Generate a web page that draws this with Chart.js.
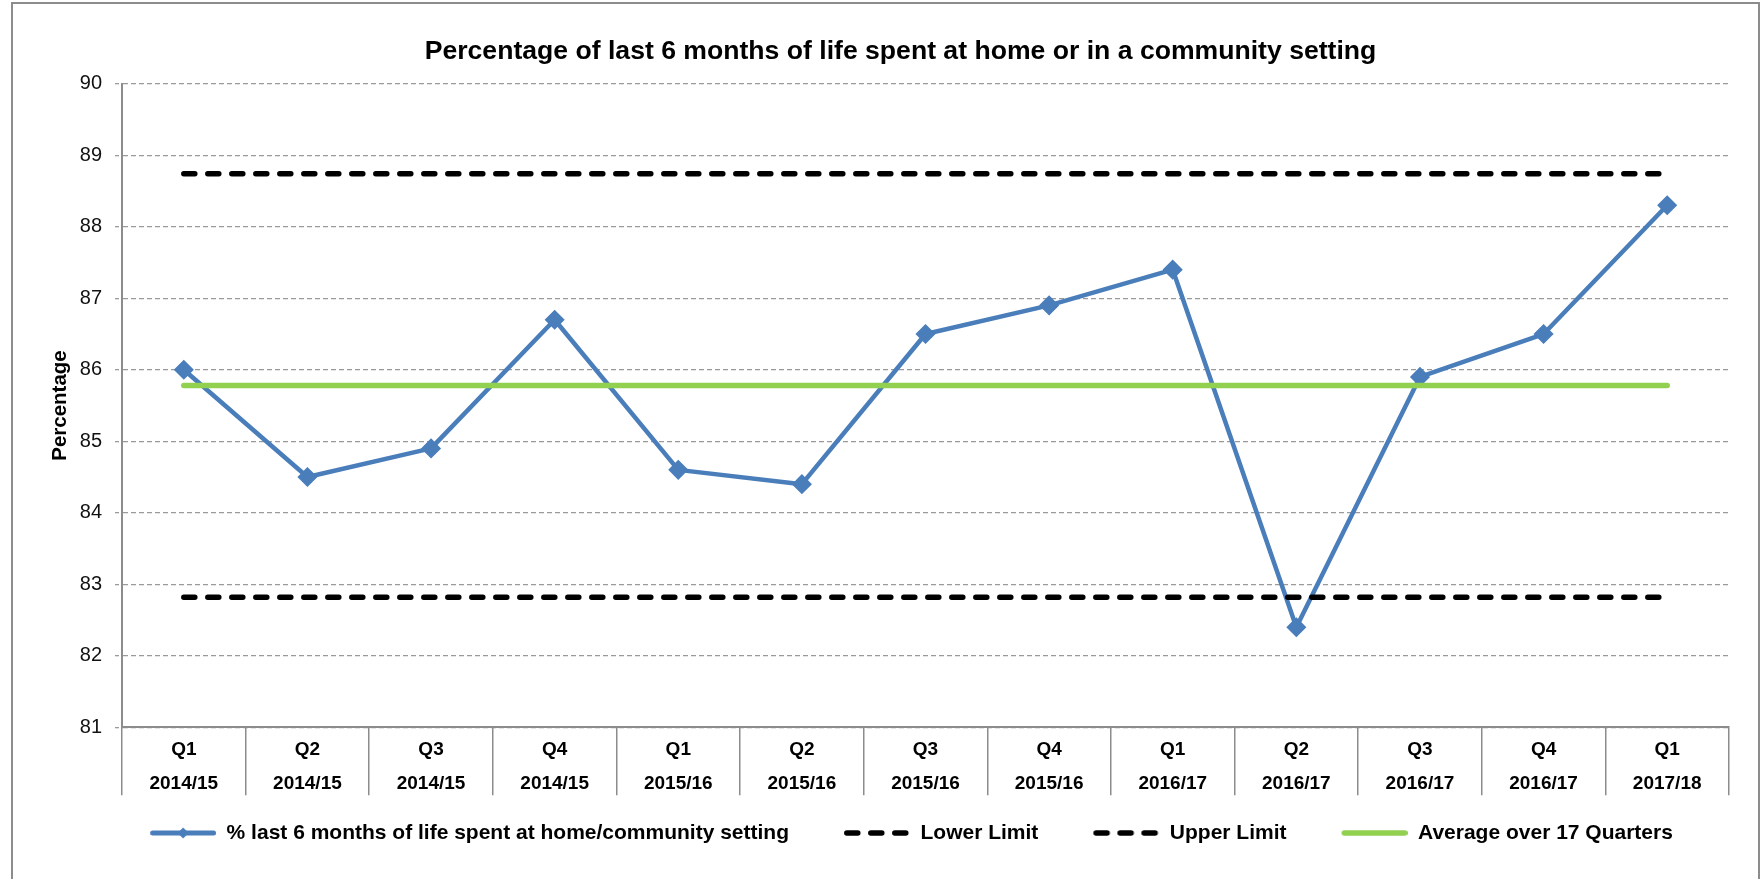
<!DOCTYPE html>
<html>
<head>
<meta charset="utf-8">
<script src="https://cdn.jsdelivr.net/npm/chart.js@4"></script>
<style>
html,body{margin:0;padding:0;background:#fff;overflow:hidden;}
#wrap{position:absolute;left:0;top:0;width:1760px;height:879px;}
#frame{position:absolute;left:11px;top:2px;width:1749px;height:900px;box-sizing:border-box;border:2px solid #8c8c8c;pointer-events:none;}
</style>
</head>
<body>
<div id="wrap"><canvas id="c"></canvas></div>
<div id="frame"></div>
<script>
// ---- data ----
const quarters = ["Q1","Q2","Q3","Q4","Q1","Q2","Q3","Q4","Q1","Q2","Q3","Q4","Q1"];
const years = ["2014/15","2014/15","2014/15","2014/15","2015/16","2015/16","2015/16","2015/16","2016/17","2016/17","2016/17","2016/17","2017/18"];
const pctHomeCommunity = [86.0, 84.5, 84.9, 86.7, 84.6, 84.4, 86.5, 86.9, 87.4, 82.4, 85.9, 86.5, 88.3];
const lowerLimit = [82.82, 82.82, 82.82, 82.82, 82.82, 82.82, 82.82, 82.82, 82.82, 82.82, 82.82, 82.82, 82.82];
const upperLimit = [88.74, 88.74, 88.74, 88.74, 88.74, 88.74, 88.74, 88.74, 88.74, 88.74, 88.74, 88.74, 88.74];
const averageLine = [85.78, 85.78, 85.78, 85.78, 85.78, 85.78, 85.78, 85.78, 85.78, 85.78, 85.78, 85.78, 85.78];
const seriesNames = ["% last 6 months of life spent at home/community setting", "Lower Limit", "Upper Limit", "Average over 17 Quarters"];
const yMin = 81, yMax = 90, yStep = 1;
const chartTitle = "Percentage of last 6 months of life spent at home or in a community setting";
const yTitle = "Percentage";

// ---- styles ----
const FONT = '"Liberation Sans", Arial, sans-serif';
const BLUE = '#4a7ebb';
const GREEN = '#92d050';
const BLACK = '#000000';
const LIMIT_DASH = [11, 13];
const ICON_W = 88, ICON_PAD = 22, ICON_H = 20;

Chart.defaults.font.family = FONT;

function makeIcon(kind) {
  const cv = document.createElement('canvas');
  cv.width = ICON_W; cv.height = ICON_H;
  const c = cv.getContext('2d');
  const y = ICON_H / 2;
  c.lineCap = 'round';
  if (kind === 'blue') {
    c.strokeStyle = BLUE; c.lineWidth = 5;
    c.beginPath(); c.moveTo(ICON_PAD + 2.5, y); c.lineTo(ICON_W - 2.5, y); c.stroke();
    const cx = (ICON_PAD + ICON_W) / 2, r = 5.5;
    c.fillStyle = BLUE;
    c.beginPath(); c.moveTo(cx - r, y); c.lineTo(cx, y - r); c.lineTo(cx + r, y); c.lineTo(cx, y + r); c.closePath(); c.fill();
  } else if (kind === 'dash') {
    c.strokeStyle = BLACK; c.lineWidth = 5.5; c.setLineDash(LIMIT_DASH);
    c.beginPath(); c.moveTo(ICON_PAD + 2.75, y); c.lineTo(ICON_W - 2.75, y); c.stroke();
  } else {
    c.strokeStyle = GREEN; c.lineWidth = 5.5;
    c.beginPath(); c.moveTo(ICON_PAD + 2.75, y); c.lineTo(ICON_W - 2.75, y); c.stroke();
  }
  return cv;
}
const legendIcons = [makeIcon('blue'), makeIcon('dash'), makeIcon('dash'), makeIcon('green')];

const labels = quarters.map((q, i) => [q, years[i]]);

new Chart(document.getElementById('c'), {
  type: 'line',
  data: {
    labels: labels,
    datasets: [
      {
        label: seriesNames[0], data: pctHomeCommunity, order: 4,
        borderColor: BLUE, backgroundColor: BLUE, borderWidth: 4.5, tension: 0,
        borderJoinStyle: 'round',
        pointStyle: 'rectRot', pointRadius: 9, pointBackgroundColor: BLUE, pointBorderColor: BLUE, pointBorderWidth: 1.5
      },
      {
        label: seriesNames[1], data: lowerLimit, order: 3,
        borderColor: BLACK, borderWidth: 5.5, borderDash: LIMIT_DASH, borderCapStyle: 'round', pointRadius: 0
      },
      {
        label: seriesNames[2], data: upperLimit, order: 2,
        borderColor: BLACK, borderWidth: 5.5, borderDash: LIMIT_DASH, borderCapStyle: 'round', pointRadius: 0
      },
      {
        label: seriesNames[3], data: averageLine, order: 1,
        borderColor: GREEN, borderWidth: 5.5, borderCapStyle: 'round', pointRadius: 0
      }
    ]
  },
  options: {
    responsive: true,
    maintainAspectRatio: false,
    animation: false,
    events: [],
    layout: { padding: { left: 72, right: 31, top: 0, bottom: 25.5 } },
    plugins: {
      tooltip: { enabled: false },
      title: {
        display: true, text: chartTitle, color: '#000',
        font: { size: 26.6, weight: 'bold', lineHeight: 1.2 },
        padding: { top: 35.7, bottom: 16.1 }
      },
      legend: {
        position: 'bottom',
        labels: {
          usePointStyle: true,
          pointStyleWidth: ICON_W,
          padding: 33,
          color: '#000',
          font: { size: 21, weight: 'bold' },
          generateLabels: (chart) => chart.data.datasets.map((ds, i) => ({
            text: ds.label,
            pointStyle: legendIcons[i],
            fillStyle: 'rgba(0,0,0,0)',
            strokeStyle: 'rgba(0,0,0,0)',
            lineWidth: 0,
            hidden: false,
            datasetIndex: i,
            fontColor: '#000'
          }))
        }
      }
    },
    scales: {
      x: {
        type: 'category',
        offset: true,
        grid: { offset: true, drawOnChartArea: false, drawTicks: true, tickLength: 68, color: '#8c8c8c', lineWidth: 1.5 },
        border: { display: true, color: '#8c8c8c', width: 2 },
        ticks: {
          autoSkip: false, maxRotation: 0, minRotation: 0, padding: -63, color: '#000',
          font: { size: 19, weight: 'bold', lineHeight: 1.79 }
        },
        afterFit: (s) => { s.height = 62.2; }
      },
      y: {
        min: yMin, max: yMax,
        ticks: { stepSize: yStep, padding: 13, color: '#111', font: { size: 20 } },
        grid: { color: '#9a9a9a', lineWidth: 1.3, tickLength: 7, tickColor: '#9a9a9a', tickBorderDash: [4, 3] },
        border: { display: true, color: '#8c8c8c', width: 2, dash: [5, 3] },
        title: {
          display: true, text: yTitle, color: '#000',
          font: { size: 20.5, weight: 'bold', lineHeight: 1.2 },
          padding: { top: -24.3, bottom: 0 }
        },
        afterFit: (s) => { s.width = 50; }
      }
    }
  }
});
</script>
</body>
</html>
